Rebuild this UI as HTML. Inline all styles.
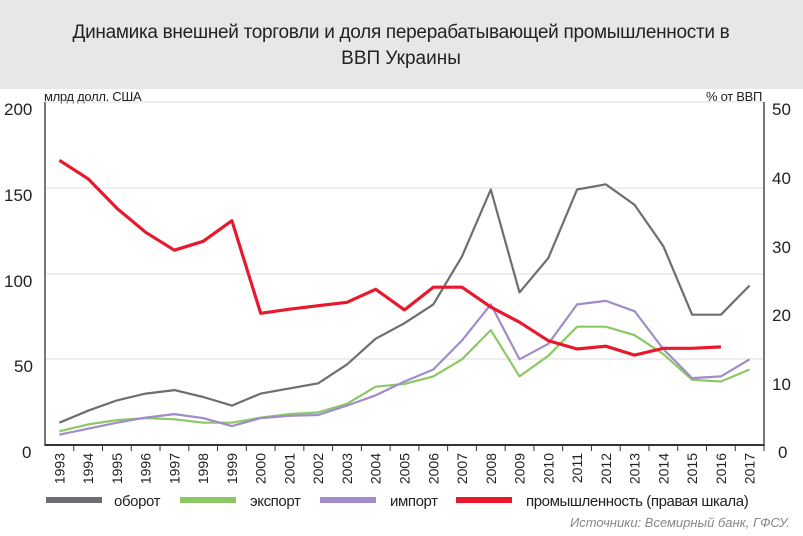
<!DOCTYPE html>
<html><head><meta charset="utf-8"><style>
body{margin:0;width:803px;height:531px;overflow:hidden;background:#fff;font-family:"Liberation Sans",sans-serif}
</style></head><body>
<svg id="s" width="803" height="531" xmlns="http://www.w3.org/2000/svg" font-family="Liberation Sans, sans-serif">
<rect x="0" y="0" width="803" height="89" fill="#e6e7e8"/>
<rect x="0" y="89" width="803" height="442" fill="#fff"/>
<text x="401" y="38" text-anchor="middle" font-size="19" fill="#222" letter-spacing="-0.3">Динамика внешней торговли и доля перерабатывающей промышленности в</text>
<text x="401" y="64" text-anchor="middle" font-size="19" fill="#222">ВВП Украины</text>
<text x="44" y="101" font-size="13" fill="#222" letter-spacing="-0.3">млрд долл. США</text>
<text x="762" y="101" text-anchor="end" font-size="13" fill="#222" letter-spacing="-0.3">% от ВВП</text>
<g font-size="17" fill="#222">
<text x="4" y="115">200</text><text x="4" y="201">150</text><text x="4" y="287">100</text><text x="14" y="372">50</text><text x="22" y="458">0</text>
<text x="772" y="115">50</text><text x="772" y="184">40</text><text x="772" y="253">30</text><text x="772" y="321">20</text><text x="772" y="390">10</text><text x="778" y="458">0</text>
</g>
<g stroke="#ddd" stroke-width="1">
<line x1="45" x2="764" y1="102" y2="102"/><line x1="45" x2="764" y1="188" y2="188"/><line x1="45" x2="764" y1="274" y2="274"/><line x1="45" x2="764" y1="359" y2="359"/>
</g>
<line x1="45" y1="102" x2="45" y2="446" stroke="#777" stroke-width="2"/>
<line x1="764" y1="102" x2="764" y2="446" stroke="#777" stroke-width="2"/>
<line x1="45" y1="445" x2="764" y2="445" stroke="#333" stroke-width="2"/>
<g id="ticks"></g>
<g id="lines" fill="none" stroke-width="2.2" stroke-linejoin="round"></g>
<g font-size="15" fill="#222" letter-spacing="-0.4">
<rect x="46" y="497" width="56" height="6" fill="#6d6e71"/><text x="114" y="506">оборот</text>
<rect x="180" y="497" width="56" height="6" fill="#8cc866"/><text x="250" y="506">экспорт</text>
<rect x="320" y="497" width="56" height="6" fill="#a08cc8"/><text x="390" y="506">импорт</text>
<rect x="456" y="497" width="56" height="6" fill="#e8192c"/><text x="526" y="506">промышленность (правая шкала)</text>
</g>
<text x="790" y="527" text-anchor="end" font-size="13" font-style="italic" fill="#888">Источники: Всемирный банк, ГФСУ.</text>
</svg>
<script>
var w=28.76;
function X(i){return 45+w/2+i*w}
var t=document.getElementById("ticks"),h="";
for(var i=0;i<25;i++){var x=X(i);h+='<line x1="'+(45+(i+1)*w)+'" x2="'+(45+(i+1)*w)+'" y1="445" y2="451" stroke="#333"/>';
h+='<text transform="translate('+(x+5)+',453) rotate(-90)" text-anchor="end" font-size="14" fill="#222">'+(1993+i)+'</text>';}
t.innerHTML=h;
var L=function(v){return 445-v*1.715},R=function(v){return 445-v*6.86};
var d=[
["#6d6e71",L,[13,20,26,30,32,28,23,30,33,36,47,62,71,82,110,149,89,109,149,152,140,116,76,76,93]],
["#8cc866",L,[8,12,14.5,15.7,15,13,13,16,18,19,24,34,35.6,40,50,67,40,52,69,69,64,53,38,37,44]],
["#a08cc8",L,[6,9.5,13,16,18,15.7,11,15.7,17,17.5,23,29,37,44,61,82,50,59,82,84,78,56,39,40,50]],
["#e8192c",R,[41.5,38.8,34.5,31,28.4,29.7,32.7,19.2,19.8,20.3,20.8,22.7,19.7,23,23,20.1,17.9,15.2,14,14.4,13.1,14.1,14.1,14.3]]];
var g="";d.forEach(function(s){var p=s[2].map(function(v,i){return X(i).toFixed(1)+","+s[1](v).toFixed(1)}).join(" ");
g+='<polyline points="'+p+'" stroke="'+s[0]+'"'+(s[0]=="#e8192c"?' stroke-width="3.2"':'')+'/>';});
document.getElementById("lines").innerHTML=g;
</script>
</body></html>
